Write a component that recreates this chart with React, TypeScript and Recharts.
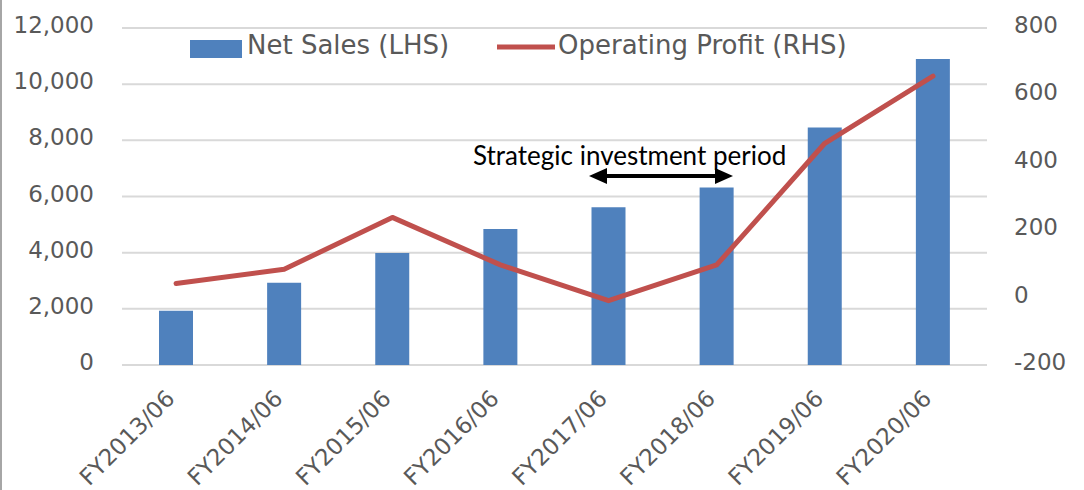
import React from 'react';
import { ComposedChart, Bar, Line, XAxis, YAxis, CartesianGrid, Legend } from 'recharts';

const fiscalYears = ['FY2013/06', 'FY2014/06', 'FY2015/06', 'FY2016/06', 'FY2017/06', 'FY2018/06', 'FY2019/06', 'FY2020/06'];
const netSales = [1930, 2930, 3990, 4840, 5620, 6320, 8460, 10900];
const operatingProfit = [42, 84, 238, 97, -9, 97, 458, 657];
const salesTicks = [0, 2000, 4000, 6000, 8000, 10000, 12000];
const profitTicks = [-200, 0, 200, 400, 600, 800];

const data = fiscalYears.map((name, i) => ({
  name,
  sales: netSales[i],
  profit: operatingProfit[i],
}));

const FONT = '"DejaVu Sans", Verdana, sans-serif';
const TEXT_GRAY = '#595959';
const BLUE = '#4F81BD';
const RED = '#C0504D';

const XTick = (props: any) => {
  const { x, y, payload } = props;
  return (
    <text
      x={x}
      y={y}
      transform={`rotate(-45, ${x}, ${y})`}
      textAnchor="end"
      fontSize={23}
      fontFamily={FONT}
      fill={TEXT_GRAY}
    >
      {payload.value}
    </text>
  );
};

// y-axis labels sit a few px above their gridline in the original
const YTick = (props: any) => {
  const { x, y, payload, textAnchor, tickFormatter } = props;
  const label = tickFormatter ? tickFormatter(payload.value) : payload.value;
  return (
    <text x={x} y={y + 5} textAnchor={textAnchor} fontSize={23} fontFamily={FONT} fill={TEXT_GRAY}>
      {label}
    </text>
  );
};

const renderLegend = () => (
  <svg width={900} height={70} style={{ display: 'block' }}>
    <rect x={190} y={40} width={52} height={18} fill={BLUE} />
    <text x={247} y={54} fontSize={26} fontFamily={FONT} fill={TEXT_GRAY}>Net Sales (LHS)</text>
    <line x1={497} x2={555} y1={47} y2={47} stroke={RED} strokeWidth={5} />
    <text x={558} y={54} fontSize={26} fontFamily={FONT} fill={TEXT_GRAY}>Operating Profit (RHS)</text>
  </svg>
);

export default function App() {
  return (
    <div style={{ position: 'absolute', top: 0, left: 0, width: 1084, height: 490, background: '#fff' }}>
      <ComposedChart width={1084} height={490} data={data} margin={{ top: 28, right: 0, left: 0, bottom: 0 }}>
        <CartesianGrid vertical={false} stroke="#D9D9D9" strokeWidth={2} yAxisId="left" />
        <XAxis
          dataKey="name"
          height={125}
          axisLine={false}
          tickLine={false}
          tickSize={0}
          tickMargin={35}
          interval={0}
          tick={<XTick />}
        />
        <YAxis
          yAxisId="left"
          orientation="left"
          width={122}
          domain={[0, 12000]}
          ticks={salesTicks}
          axisLine={false}
          tickLine={false}
          tickSize={0}
          tickMargin={28}
          tickFormatter={(v: number) => v.toLocaleString('en-US')}
          tick={<YTick />}
        />
        <YAxis
          yAxisId="right"
          orientation="right"
          width={97}
          domain={[-200, 800]}
          ticks={profitTicks}
          axisLine={false}
          tickLine={false}
          tickSize={0}
          tickMargin={27}
          tick={<YTick />}
        />
        <Legend
          verticalAlign="middle"
          align="center"
          wrapperStyle={{ top: 0, left: 0, width: 900, height: 70 }}
          content={renderLegend}
        />
        <Bar yAxisId="left" dataKey="sales" name="Net Sales (LHS)" fill={BLUE} barSize={34} isAnimationActive={false} />
        <Line
          yAxisId="right"
          dataKey="profit"
          name="Operating Profit (RHS)"
          type="linear"
          stroke={RED}
          strokeWidth={5}
          strokeLinecap="round"
          strokeLinejoin="round"
          dot={false}
          activeDot={false}
          isAnimationActive={false}
        />
      </ComposedChart>
      <svg width={1084} height={490} style={{ position: 'absolute', top: 0, left: 0, pointerEvents: 'none' }}>
        <line x1={1} x2={1} y1={0} y2={490} stroke="#A6A6A6" strokeWidth={2} />
        <text x={473} y={165} fontSize={26} fontFamily="Lato, 'Open Sans', sans-serif" fill="#000">
          Strategic investment period
        </text>
        <line x1={600} x2={722} y1={176} y2={176} stroke="#000" strokeWidth={4} />
        <polygon points="589,176 607,168 607,184" fill="#000" />
        <polygon points="733,176 715,168 715,184" fill="#000" />
      </svg>
    </div>
  );
}
